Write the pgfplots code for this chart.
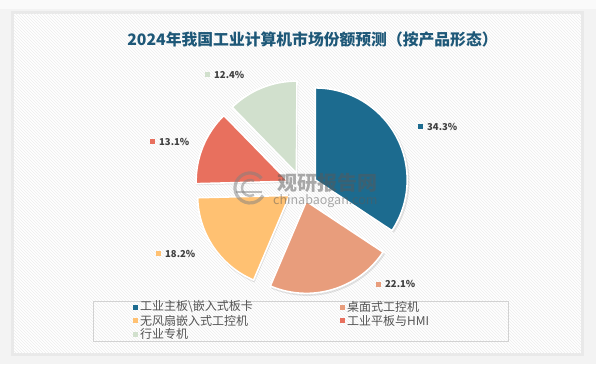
\documentclass[border=0pt]{standalone}
\usepackage{pgfplots}
\pgfplotsset{compat=1.18}
\usepackage{pgfplotstable}
\usetikzlibrary{patterns}
\usepackage{fontspec}
\setmainfont{Liberation Sans}
\newfontfamily\cjk{Noto Sans CJK SC}
\definecolor{cA}{HTML}{1C6B8F}
\definecolor{cB}{HTML}{E89D7C}
\definecolor{cC}{HTML}{FFC172}
\definecolor{cD}{HTML}{E8705E}
\definecolor{cE}{HTML}{D1E0CD}
\definecolor{ctitle}{HTML}{1E5878}
\definecolor{ctext}{HTML}{404040}
\definecolor{cbg}{HTML}{F3F3F3}

\pgfplotstableread{
val col
34.3 cA
22.1 cB
18.2 cC
13.1 cD
12.4 cE
}\piedata

\newcommand{\lab}[4]{%
  \fill[#3] (axis cs:#1-2.5,#2-2.5) rectangle (axis cs:#1+2.5,#2+2.5);
  \node[anchor=west, inner sep=0pt, text=ctext, font=\cjk\bfseries\fontsize{9.5}{11}\selectfont] at (axis cs:#1+7,#2) {#4};
}
\newcommand{\leg}[4]{%
  \fill[#3] (axis cs:#1-2.5,#2-2.5) rectangle (axis cs:#1+2.5,#2+2.5);
  \node[anchor=west, inner sep=0pt, text=ctext!90, font=\cjk\fontsize{12}{13}\selectfont] at (axis cs:#1+5,#2) {#4};
}

\begin{document}
\begin{tikzpicture}
\begin{axis}[hide axis, scale only axis, width=596pt, height=364pt,
  xmin=0, xmax=596, ymin=0, ymax=364, clip=false]
% background
\fill[cbg] (axis cs:0,0) rectangle (axis cs:596,364);
\fill[white!60!cbg] (axis cs:0,364) rectangle (axis cs:596,355);
\fill[black, opacity=0.04] (axis cs:11,8) rectangle (axis cs:584,353);
\fill[white] (axis cs:14,11) rectangle (axis cs:581,350);
\fill[pattern=north west lines, pattern color=gray!14] (axis cs:14,11) rectangle (axis cs:581,350);
% title
\node[text=ctitle, font=\cjk\bfseries\fontsize{15.8}{18}\selectfont] at (axis cs:312.5,324) {2024年我国工业计算机市场份额预测（按产品形态）};
% pie slices
\gdef\startang{90}
\pgfplotsforeachungrouped \i in {0,...,4}{%
  \pgfplotstablegetelem{\i}{val}\of\piedata \let\v\pgfplotsretval
  \pgfplotstablegetelem{\i}{col}\of\piedata \let\c\pgfplotsretval
  \pgfmathsetmacro\endang{\startang-3.6*\v}
  \pgfmathsetmacro\midang{(\startang+\endang)/2}
  \pgfmathsetmacro\ox{302+15*cos(\midang)}
  \pgfmathsetmacro\oy{177+15*sin(\midang)}
  \edef\cmd{%
    \noexpand\fill[black, opacity=0.10] (axis cs:\ox+1.2,\oy-1.5) -- ++(\startang:93pt) arc[start angle=\startang, end angle=\endang, radius=93pt] -- cycle;
    \noexpand\fill[\c, draw=white, line width=1.6pt, line join=round] (axis cs:\ox,\oy) -- ++(\startang:92pt) arc[start angle=\startang, end angle=\endang, radius=92pt] -- cycle;
  }%
  \cmd
  \xdef\startang{\endang}%
}
% watermark
\begin{scope}[opacity=0.5]
\draw[gray, line width=3.2pt] (axis cs:250,176) ++(40:15pt) arc[start angle=40, end angle=330, radius=15pt];
\draw[gray, line width=2.4pt] (axis cs:250,176) ++(60:8pt) arc[start angle=60, end angle=300, radius=8pt];
\draw[gray, line width=2pt] (axis cs:236,172) -- (axis cs:262,172);
\node[text=gray!70!black, font=\cjk\bfseries\fontsize{20}{20}\selectfont, anchor=west, inner sep=0pt] at (axis cs:277,181) {观研报告网};
\node[text=gray!70!black, font=\cjk\fontsize{12.5}{13}\selectfont, anchor=west, inner sep=0pt] at (axis cs:273,163) {chinabaogan.com};
\end{scope}
% data labels
\lab{420}{237}{cA}{34.3\%}
\lab{378}{80}{cB}{22.1\%}
\lab{158}{110.5}{cC}{18.2\%}
\lab{152}{222}{cD}{13.1\%}
\lab{207}{289}{cE}{12.4\%}
% legend
\draw[gray!35, line width=0.8pt] (axis cs:93,23) rectangle (axis cs:508,63);
\leg{135}{57}{cA}{工业主板\textbackslash 嵌入式板卡}
\leg{342}{57}{cB}{桌面式工控机}
\leg{135}{43.5}{cC}{无风扇嵌入式工控机}
\leg{342}{43.5}{cD}{工业平板与HMI}
\leg{135}{30}{cE}{行业专机}
\end{axis}
\end{tikzpicture}
\end{document}
